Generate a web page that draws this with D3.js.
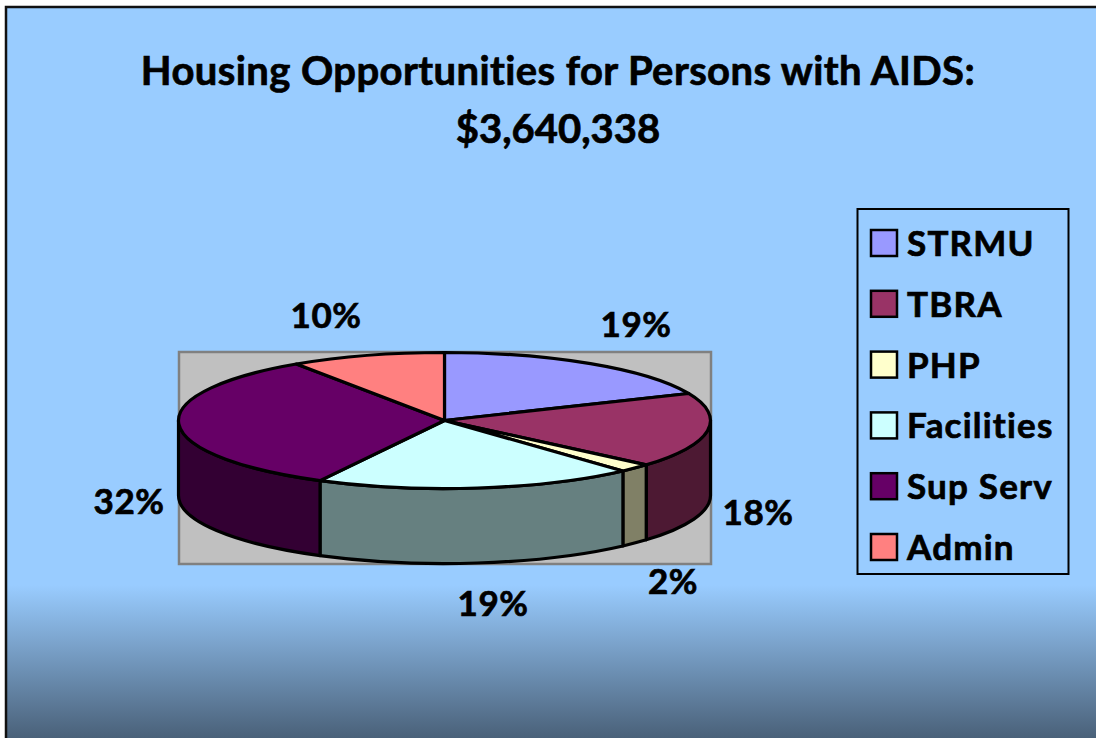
<!DOCTYPE html>
<html>
<head>
<meta charset="utf-8">
<script src="https://cdnjs.cloudflare.com/ajax/libs/d3/7.8.5/d3.min.js"></script>
<style>
  html, body { margin: 0; padding: 0; background: #fff; overflow: hidden; }
  svg { display: block; font-family: Lato, "Open Sans", sans-serif; font-weight: 700; }
  text { font-variant-ligatures: none; stroke: #000; stroke-width: 0.7px; }
  .slice { vector-effect: non-scaling-stroke; stroke: #000; stroke-width: 3.2px; stroke-linejoin: round; }
</style>
</head>
<body>
<svg id="chart" width="1096" height="738"></svg>
<script>
var titleLines = ["Housing Opportunities for Persons with AIDS:", "$3,640,338"];
var categories = ["STRMU", "TBRA", "PHP", "Facilities", "Sup Serv", "Admin"];
var values = [18.5, 17.8, 2.0, 19.45, 32.85, 9.4];
var percentLabels = ["19%", "18%", "2%", "19%", "32%", "10%"];
var topColors = ["#9999ff", "#993366", "#ffffcc", "#ccffff", "#660066", "#ff8080"];
var sideColors = ["#4d4d80", "#4d1933", "#808066", "#668080", "#330033", "#804040"];
// label anchors
var labelX = [636, 758, 673, 493, 129, 326];
var labelY = [325, 513, 582, 604, 502, 316];

var width = 1096, height = 738;
var cx = 444.5, cy = 420.5, rx = 266, ry = 68, depth = 75;

var svg = d3.select("#chart");
var defs = svg.append("defs");
var grad = defs.append("linearGradient")
  .attr("id", "bg").attr("gradientUnits", "userSpaceOnUse")
  .attr("x1", 0).attr("y1", 585).attr("x2", 0).attr("y2", 738);
grad.append("stop").attr("offset", "0%").attr("stop-color", "#99ccff");
grad.append("stop").attr("offset", "100%").attr("stop-color", "#4a6179");

// background panel, runs off the right and bottom of the page
svg.append("rect")
  .attr("x", 6).attr("y", 7).attr("width", width + 10).attr("height", height + 10)
  .attr("fill", "url(#bg)").attr("stroke", "#111").attr("stroke-width", 2.5);

svg.selectAll(".title")
  .data(titleLines)
  .enter()
  .append("text")
    .attr("class", "title")
    .attr("x", 558)
    .attr("y", (d, i) => 85 + i * 58)
    .attr("text-anchor", "middle")
    .attr("font-size", 40)
    .attr("letter-spacing", (d, i) => i ? 0 : 0.4)
    .text(d => d);

// plot area
svg.append("rect")
  .attr("x", 179).attr("y", 352).attr("width", 532).attr("height", 212)
  .attr("fill", "#c0c0c0").attr("stroke", "#808080").attr("stroke-width", 2.5);

var pie = d3.pie().sort(null).value(d => d);
var arcs = pie(values);

// the pie is drawn round and squashed, so the stroke stays even
var pieGroup = svg.append("g")
  .attr("transform", `translate(${cx},${cy}) scale(1,${ry / rx})`);
var wall = depth * rx / ry;

function sidePath(d) {
  // pie angles start at 12 o'clock, canvas angles at 3 o'clock
  var a0 = Math.max(d.startAngle, Math.PI / 2) - Math.PI / 2;
  var a1 = Math.min(d.endAngle, Math.PI * 1.5) - Math.PI / 2;
  if (a1 <= a0) return null;
  var p = d3.path();
  p.arc(0, 0, rx, a0, a1);
  p.lineTo(rx * Math.cos(a1), rx * Math.sin(a1) + wall);
  p.arc(0, wall, rx, a1, a0, true);
  p.closePath();
  return p.toString();
}

pieGroup.selectAll(".side")
  .data(arcs)
  .enter()
  .append("path")
    .attr("class", "slice side")
    .attr("d", sidePath)
    .attr("fill", (d, i) => sideColors[i]);

var arc = d3.arc().innerRadius(0).outerRadius(rx);
pieGroup.selectAll(".top")
  .data(arcs)
  .enter()
  .append("path")
    .attr("class", "slice top")
    .attr("d", arc)
    .attr("fill", (d, i) => topColors[i]);

svg.selectAll(".pct")
  .data(percentLabels)
  .enter()
  .append("text")
    .attr("class", "pct")
    .attr("x", (d, i) => labelX[i])
    .attr("y", (d, i) => labelY[i] + 12)
    .attr("text-anchor", "middle")
    .attr("font-size", 35)
    .attr("letter-spacing", 0.5)
    .text(d => d);

// legend
var legendY = d3.scalePoint().domain(categories).range([243, 547]);
svg.append("rect")
  .attr("x", 857.5).attr("y", 209).attr("width", 211).attr("height", 365)
  .attr("fill", "#99ccff").attr("stroke", "#000").attr("stroke-width", 2);

var legend = svg.selectAll(".legend")
  .data(categories)
  .enter()
  .append("g")
    .attr("class", "legend")
    .attr("transform", d => `translate(0,${legendY(d)})`);
legend.append("rect")
  .attr("x", 871).attr("y", -13).attr("width", 26).attr("height", 26)
  .attr("fill", (d, i) => topColors[i])
  .attr("stroke", "#000").attr("stroke-width", 2.5);
legend.append("text")
  .attr("x", 907).attr("y", 13)
  .attr("font-size", 35)
  .attr("letter-spacing", 1.2)
  .text(d => d);
</script>
</body>
</html>
